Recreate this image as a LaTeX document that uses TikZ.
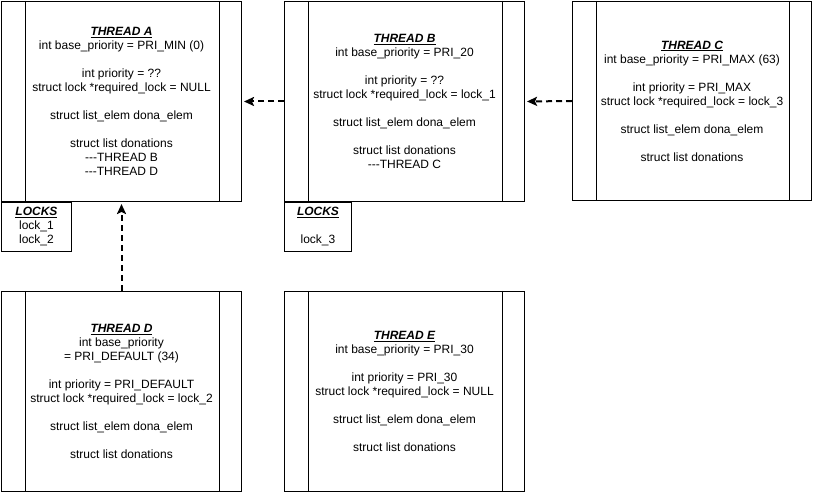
\documentclass[tikz,border=0pt]{standalone}
\usepackage{fontspec}
\setmainfont{Liberation Sans}
\usetikzlibrary{arrows.meta}
\newcommand{\ttl}[1]{\textbf{\textit{\underline{#1}}}}
\newcommand{\dsh}{-\kern0pt-\kern0pt-}
\begin{document}
\begin{tikzpicture}[x=1pt,y=-1pt,
  thread/.style={draw,line width=1pt,minimum width=240pt,minimum height=200pt,inner sep=0pt,
    align=center,font=\fontsize{12}{14}\selectfont,anchor=north west},
  lockbox/.style={draw,line width=1pt,inner sep=0pt,align=center,font=\fontsize{12}{14}\selectfont,anchor=north west},
  dep/.style={line width=2pt,dash pattern=on 6pt off 4pt,-{Stealth[length=10pt,width=9pt,inset=2pt]},shorten >=2pt}
]
\useasboundingbox (0,0) rectangle (814,494);

\node[thread] (A) at (1,1) {\ttl{THREAD A}\\ int base\_priority = PRI\_MIN (0)\\[14pt]
  int priority = ??\\ struct lock *required\_lock = NULL\\[14pt]
  struct list\_elem dona\_elem\\[14pt]
  struct list donations\\ \dsh THREAD B\\ \dsh THREAD D};

\node[thread] (B) at (284,1) {\ttl{THREAD B}\\ int base\_priority = PRI\_20\\[14pt]
  int priority = ??\\ struct lock *required\_lock = lock\_1\\[14pt]
  struct list\_elem dona\_elem\\[14pt]
  struct list donations\\ \dsh THREAD C};

\node[thread,minimum width=239pt,minimum height=199pt] (C) at (572,1) {\ttl{THREAD C}\\ int base\_priority = PRI\_MAX (63)\\[14pt]
  int priority = PRI\_MAX\\ struct lock *required\_lock = lock\_3\\[14pt]
  struct list\_elem dona\_elem\\[14pt]
  struct list donations};

\node[thread] (D) at (1,291) {\ttl{THREAD D}\\ int base\_priority\\ = PRI\_DEFAULT (34)\\[14pt]
  int priority = PRI\_DEFAULT\\ struct lock *required\_lock = lock\_2\\[14pt]
  struct list\_elem dona\_elem\\[14pt]
  struct list donations};

\node[thread] (E) at (284,291) {\ttl{THREAD E}\\ int base\_priority = PRI\_30\\[14pt]
  int priority = PRI\_30\\ struct lock *required\_lock = NULL\\[14pt]
  struct list\_elem dona\_elem\\[14pt]
  struct list donations};

\foreach \n in {A,B,C,D,E}{
  \draw[line width=1pt] ([xshift=24pt]\n.north west) -- ([xshift=24pt]\n.south west);
  \draw[line width=1pt] ([xshift=-23pt]\n.north east) -- ([xshift=-23pt]\n.south east);
}

\node[lockbox,minimum width=70pt,minimum height=49pt] (LA) at (A.south west) {\ttl{LOCKS}\\ lock\_1\\ lock\_2};
\node[lockbox,minimum width=67pt,minimum height=49pt] (LB) at (B.south west) {\ttl{LOCKS}\\[14pt] lock\_3};

\draw[dep] (B.west) -- (A.east);
\draw[dep] (C.west) -- (B.east);
\draw[dep] (D.north) -- (A.south);
\end{tikzpicture}
\end{document}
